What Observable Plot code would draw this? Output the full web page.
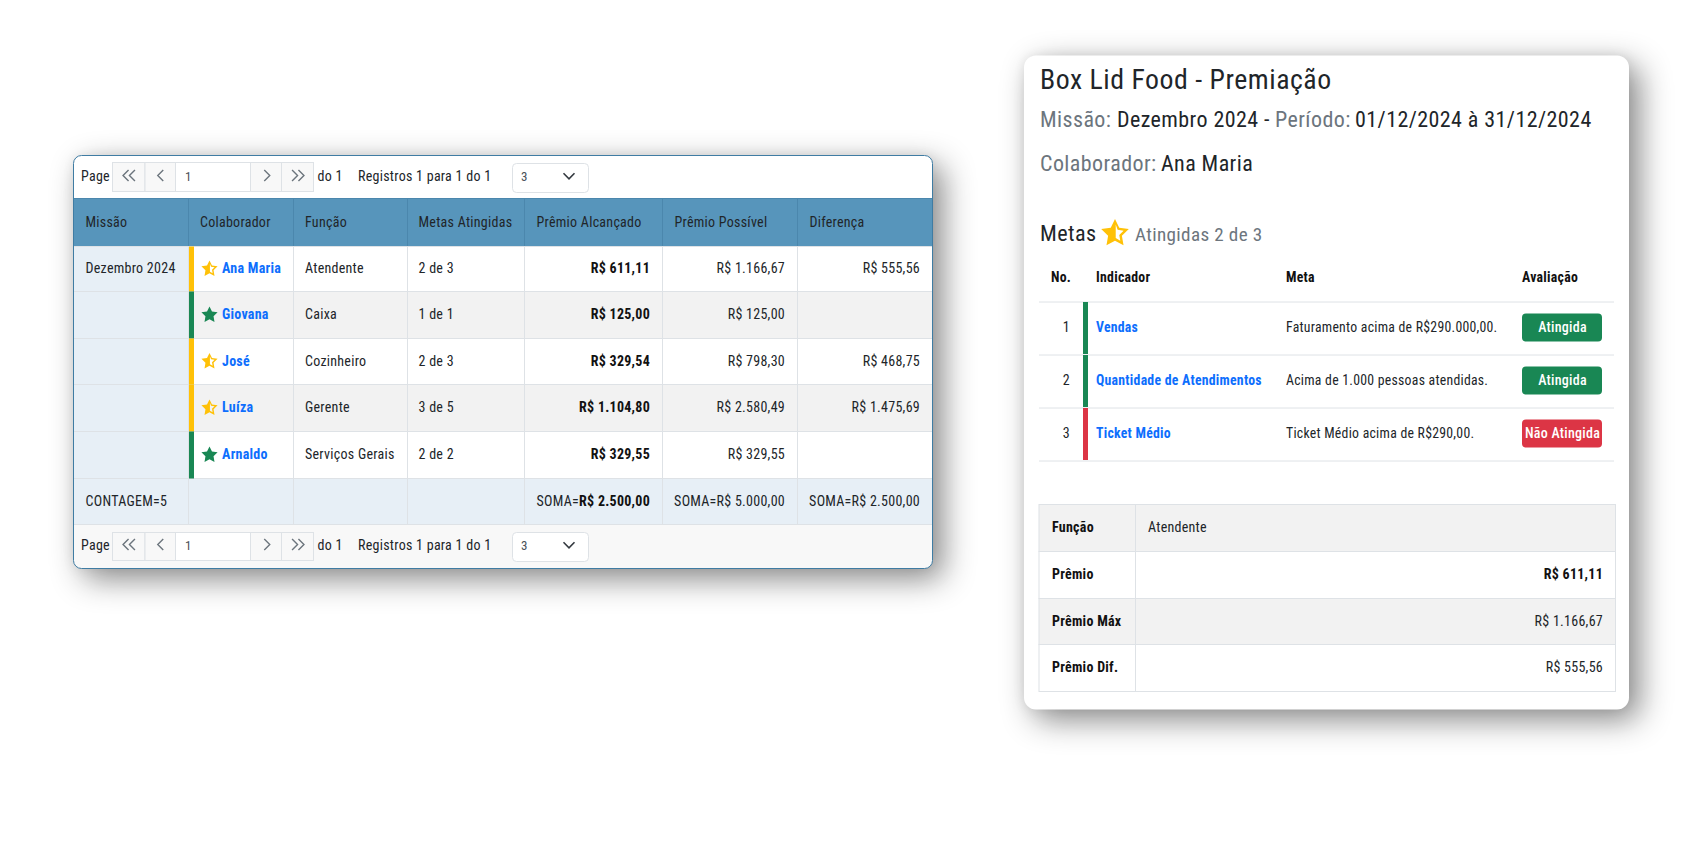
<!DOCTYPE html>
<html lang="pt-BR">
<head>
<meta charset="utf-8">
<title>Box Lid Food - Premiação</title>
<script src="https://cdn.jsdelivr.net/npm/d3@7"></script>
<script src="https://cdn.jsdelivr.net/npm/@observablehq/plot@0.6"></script>
<style>
  html, body { margin: 0; padding: 0; background: #fff; }
  svg { display: block; }
  svg text { letter-spacing: .019em; }
</style>
</head>
<body>
<div id="chart"></div>
<script>
// ---------- data ----------
const cabecalhos = ["Missão", "Colaborador", "Função", "Metas Atingidas", "Prêmio Alcançado", "Prêmio Possível", "Diferença"];
const missoes = ["Dezembro 2024"];
const colaboradores = ["Ana Maria", "Giovana", "José", "Luíza", "Arnaldo"];
const funcoes = ["Atendente", "Caixa", "Cozinheiro", "Gerente", "Serviços Gerais"];
const metasAtingidas = ["2 de 3", "1 de 1", "2 de 3", "3 de 5", "2 de 2"];
const premioAlcancado = ["R$ 611,11", "R$ 125,00", "R$ 329,54", "R$ 1.104,80", "R$ 329,55"];
const premioPossivel = ["R$ 1.166,67", "R$ 125,00", "R$ 798,30", "R$ 2.580,49", "R$ 329,55"];
const diferenca = ["R$ 555,56", "", "R$ 468,75", "R$ 1.475,69", ""];
const completo = [false, true, false, false, true];
const indicadorCab = ["No.", "Indicador", "Meta", "Avaliação"];
const indicadorNo = ["1", "2", "3"];
const indicadores = ["Vendas", "Quantidade de Atendimentos", "Ticket Médio"];
const metasTexto = ["Faturamento acima de R$290.000,00.", "Acima de 1.000 pessoas atendidas.", "Ticket Médio acima de R$290,00."];
const avaliacoes = ["Atingida", "Atingida", "Não Atingida"];
const resumoRotulos = ["Função", "Prêmio", "Prêmio Máx", "Prêmio Dif."];

// ---------- layout and style ----------
const FONT = "'Roboto Condensed', Roboto, sans-serif";
const C = {header:"#5795bb", headerLine:"#4b87ad", light:"#e7eff6", stripe:"#f2f2f2", line:"#dee2e6", ink:"#212529",
           gray:"#6c757d", amber:"#ffc107", green:"#198754", red:"#dc3545", link:"#0d6efd", btn:"#f8f8f8", edge:"#3f7ca3"};
const SHADOW = "drop-shadow(10px 10px 16px rgba(0,0,0,.45)) drop-shadow(0 0 6px rgba(0,0,0,.08))";
const colEdges = [73,188,293,407,524,662,797,932];
const rowEdges = [198,246,291,338,384,431,478,524];
const textLeft = [84.5,199,304,417.5,535.5,673.5,808.5];
const textRight = [0,0,0,0,649,784,919];
const center = i => (rowEdges[i] + rowEdges[i+1]) / 2;

// ---------- custom symbols ----------
function starPts(R, r) {
  const p = [];
  for (let i = 0; i < 10; i++) {
    const a = -Math.PI/2 + i*Math.PI/5, q = i%2 ? r : R;
    p.push([q*Math.cos(a), q*Math.sin(a)]);
  }
  return p;
}
const halfStar = {draw(ctx, size) {
  const R = Math.sqrt(size/Math.PI), out = starPts(R, R*0.5), inn = starPts(R*0.62, R*0.31);
  out.forEach((p,i) => i ? ctx.lineTo(p[0],p[1]) : ctx.moveTo(p[0],p[1])); ctx.closePath();
  // hole in the right half only, wound the other way
  const rightHalf = [inn[0], inn[1], inn[2], inn[3], inn[4], inn[5]].map(p=>[Math.max(p[0],R*0.05),p[1]]);
  rightHalf.reverse().forEach((p,i) => i ? ctx.lineTo(p[0],p[1]) : ctx.moveTo(p[0],p[1])); ctx.closePath();
}};
const fullStar = {draw(ctx, size) {
  const R = Math.sqrt(size/Math.PI);
  starPts(R, R*0.5).forEach((p,i) => i ? ctx.lineTo(p[0],p[1]) : ctx.moveTo(p[0],p[1])); ctx.closePath();
}};
const chev = (dirs, vertical) => ({draw(ctx, size) {
  const R = Math.sqrt(size/Math.PI);
  if (vertical) { ctx.moveTo(-R,-R/2); ctx.lineTo(0,R/2); ctx.lineTo(R,-R/2); return; }
  for (const [off,s] of dirs) { ctx.moveTo(off-s*R/2,-R); ctx.lineTo(off+s*R/2,0); ctx.lineTo(off-s*R/2,R); }
}});
const dblLeft = {draw(c,z){ chev([[-3.2,-1],[3.2,-1]]).draw(c,z);}};
const sglLeft = {draw(c,z){ chev([[0,-1]]).draw(c,z);}};
const sglRight = {draw(c,z){ chev([[0,1]]).draw(c,z);}};
const dblRight = {draw(c,z){ chev([[-3.2,1],[3.2,1]]).draw(c,z);}};
const down = chev([], true);

// ---------- tables built from the data ----------
const bodyCells = [];
colaboradores.forEach((_, r) => colEdges.slice(0,-1).forEach((x1, c) => bodyCells.push({
  x1, x2: colEdges[c+1], y1: rowEdges[r+1], y2: rowEdges[r+2],
  fill: c === 0 ? C.light : (r % 2 ? C.stripe : "#fff")
})));
const headCells = cabecalhos.map((_, c) => ({x1: colEdges[c], x2: colEdges[c+1], y1: rowEdges[0], y2: rowEdges[1]}));
const footCells = cabecalhos.map((_, c) => ({x1: colEdges[c], x2: colEdges[c+1], y1: rowEdges[6], y2: rowEdges[7]}));
const leftBars = colaboradores.map((_, r) => ({x1:188.5, x2:193.5, y1:rowEdges[r+1], y2:rowEdges[r+2], fill: completo[r] ? C.green : C.amber}));
const T = (rows, o) => Plot.text(rows, {x:"x", y:"y", text:"t", fontFamily:FONT, textAnchor:"start", lineAnchor:"middle", fontSize:14, fill:C.ink, dy:-0.5, ...o});

const leftTexts = [
  ...cabecalhos.map((t,c) => ({t, x:textLeft[c], y:center(0)})),
  {t:missoes[0], x:textLeft[0], y:center(1)},
  ...funcoes.map((t,r) => ({t, x:textLeft[2], y:center(r+1)})),
  ...metasAtingidas.map((t,r) => ({t, x:textLeft[3], y:center(r+1)})),
  {t:"CONTAGEM=5", x:textLeft[0], y:center(6)}
];
const leftRight = [
  ...premioPossivel.map((t,r) => ({t, x:textRight[5], y:center(r+1)})),
  ...diferenca.map((t,r) => ({t, x:textRight[6], y:center(r+1)})),
  {t:"SOMA=R$ 5.000,00", x:textRight[5], y:center(6)},
  {t:"SOMA=R$ 2.500,00", x:textRight[6], y:center(6)},
  {t:"SOMA=", x:578, y:center(6)}
];
const leftBold = [
  ...premioAlcancado.map((t,r) => ({t, x:textRight[4], y:center(r+1)})),
  {t:"R$ 2.500,00", x:textRight[4], y:center(6)}
];
const nameTexts = colaboradores.map((t,r) => ({t, x:221, y:center(r+1)}));
const starsLeft = colaboradores.map((_,r) => ({x:208.5, y:center(r+1)}));

// pager toolbars
const toolbarRows = [{top:162, bottom:191, sel:192, sel0:163, mid:176}, {top:532, bottom:560, sel:561, sel0:532, mid:545}];
const pagerEdges = [112,144.5,175,250,281,313];
const pagerIcons = [128,159.5,266,297];
const pagerRects = toolbarRows.flatMap(r => pagerEdges.slice(0,-1).map((x1,i) => ({x1, x2:pagerEdges[i+1], y1:r.top, y2:r.bottom, fill:i===2?"#fff":C.btn})));
const selectRects = toolbarRows.map(r => ({x1:512, x2:588, y1:r.sel0, y2:r.sel}));
const toolbarTexts = toolbarRows.flatMap(r => [
  {t:"Page", x:80, y:r.mid}, {t:"do 1", x:316.5, y:r.mid}, {t:"Registros 1 para 1 do 1", x:357, y:r.mid}
]);
const toolbarSmall = toolbarRows.flatMap(r => [{t:"1", x:184, y:r.mid},{t:"3", x:520, y:r.mid}]);

// right card
const indLines = [301,354,407,460];
const indCenter = i => (indLines[i]+indLines[i+1])/2;
const indHeadX = [1050,1095,1285,1521];
const resumoY = [504,551,598,644,691];
const resumoMid = i => (resumoY[i]+resumoY[i+1])/2;
const resumoCells = resumoRotulos.flatMap((_, r) => [[1038.5,1135],[1135,1615]].map(([x1,x2]) => ({x1,x2,y1:resumoY[r],y2:resumoY[r+1],fill:r%2?"#fff":C.stripe})));

const chart = Plot.plot({
  width:1700, height:850, margin:0,
  x:{type:"linear", domain:[0,1700], range:[0.5,1700.5], axis:null},
  y:{type:"linear", domain:[0,850], range:[0.5,850.5], axis:null},
  color:{type:"identity"},
  style:{background:"#fff"},
  marks:[
    // left card
    Plot.rect([{}], {x1:()=>73,x2:()=>932,y1:()=>155,y2:()=>568,rx:8,fill:C.btn,imageFilter:SHADOW}),
    Plot.rect([{}], {x1:()=>73,x2:()=>932,y1:()=>155,y2:()=>230,rx:8,fill:"#fff"}),
    Plot.rect(headCells, {x1:"x1",x2:"x2",y1:"y1",y2:"y2",fill:C.header,stroke:C.headerLine}),
    Plot.rect(bodyCells, {x1:"x1",x2:"x2",y1:"y1",y2:"y2",fill:"fill",stroke:C.line}),
    Plot.rect(footCells, {x1:"x1",x2:"x2",y1:"y1",y2:"y2",fill:C.light,stroke:C.line}),
    Plot.rect(leftBars, {x1:"x1",x2:"x2",y1:"y1",y2:"y2",fill:"fill"}),
    Plot.rect([{}], {x1:()=>73,x2:()=>932,y1:()=>155,y2:()=>568,rx:8,fill:"none",stroke:C.edge,strokeWidth:1}),
    // toolbars
    Plot.rect(pagerRects, {x1:"x1",x2:"x2",y1:"y1",y2:"y2",fill:"fill",stroke:C.line}),
    Plot.rect(selectRects, {x1:"x1",x2:"x2",y1:"y1",y2:"y2",rx:4,fill:"#fff",stroke:C.line}),
    ...[[dblLeft,0],[sglLeft,1],[sglRight,2],[dblRight,3]].map(([symbol,i]) =>
      Plot.dot(toolbarRows, {x:()=>pagerIcons[i], y:d=>d.mid-1.5, symbol, r:5.5, fill:"none", stroke:C.gray, strokeWidth:1.4})),
    Plot.dot(toolbarRows, {x:()=>568, y:d=>d.mid-1, symbol:down, r:5.5, fill:"none", stroke:"#343a40", strokeWidth:1.6}),
    T(toolbarTexts, {}),
    T(toolbarSmall, {fontSize:13, fill:"#495057"}),
    // left table text
    T(leftTexts, {}),
    T(leftRight, {textAnchor:"end"}),
    T(leftBold, {textAnchor:"end", fontWeight:700, fill:"#111"}),
    T(nameTexts, {fontWeight:700, fill:C.link}),
    Plot.dot(starsLeft.filter((_,r)=>!completo[r]), {x:"x",y:"y",symbol:halfStar,r:8.5,fill:C.amber,stroke:"none",dy:-0.5}),
    Plot.dot(starsLeft.filter((_,r)=>completo[r]), {x:"x",y:"y",symbol:fullStar,r:8.5,fill:C.green,stroke:"none",dy:-0.5}),
    // right card
    Plot.rect([{}], {x1:()=>1023.5,x2:()=>1628.5,y1:()=>55,y2:()=>709,rx:12,fill:"#fff",imageFilter:SHADOW}),
    T([{t:"Box Lid Food - Premiação", x:1039, y:80}], {fontSize:27.8}),
    T([{t:"Missão:", x:1039, y:119},{t:"Período:", x:1274, y:119}], {fontSize:22, fill:C.gray}),
    T([{t:"Dezembro 2024 -", x:1116, y:119},{t:"01/12/2024 à 31/12/2024", x:1354, y:119}], {fontSize:22}),
    T([{t:"Colaborador:", x:1039, y:163}], {fontSize:22, fill:C.gray}),
    T([{t:"Ana Maria", x:1160, y:163}], {fontSize:22}),
    T([{t:"Metas", x:1039, y:233}], {fontSize:22.2}),
    Plot.dot([{x:1114,y:232.5}], {x:"x",y:"y",symbol:halfStar,r:14.5,fill:C.amber,stroke:"none"}),
    T([{t:"Atingidas 2 de 3", x:1134, y:234}], {fontSize:19.1, fill:C.gray}),
    T(indicadorCab.map((t,i)=>({t,x:indHeadX[i],y:277.5})), {fontWeight:700, fill:"#111", fontSize:13.8}),
    Plot.ruleY(indLines, {x1:()=>1038.5, x2:()=>1613.5, y:d=>d, stroke:C.line}),
    Plot.rect(indicadores.map((_,i)=>({i})), {x1:()=>1082.5,x2:()=>1087.5,y1:d=>indLines[d.i]+0.5,y2:d=>indLines[d.i+1]-0.5,fill:d=>avaliacoes[d.i]==="Atingida"?C.green:C.red}),
    T(indicadorNo.map((t,i)=>({t,x:1069,y:indCenter(i)})), {textAnchor:"end"}),
    T(indicadores.map((t,i)=>({t,x:1095,y:indCenter(i)})), {fontWeight:700, fill:C.link, fontSize:13.75}),
    T(metasTexto.map((t,i)=>({t,x:1285,y:indCenter(i)})), {fontSize:13.75}),
    Plot.rect(avaliacoes.map((t,i)=>({t,i})), {x1:()=>1521.5,x2:()=>1601.5,y1:d=>indCenter(d.i)-14.5,y2:d=>indCenter(d.i)+13.5,rx:4,fill:d=>d.t==="Atingida"?C.green:C.red}),
    T(avaliacoes.map((t,i)=>({t,x:1561.5,y:indCenter(i)})), {textAnchor:"middle", fill:"#fff", fontWeight:500}),
    Plot.rect(resumoCells, {x1:"x1",x2:"x2",y1:"y1",y2:"y2",fill:"fill",stroke:C.line}),
    T(resumoRotulos.map((t,i)=>({t,x:1051,y:resumoMid(i)})), {fontWeight:700, fill:"#111"}),
    T([{t:funcoes[0],x:1147,y:resumoMid(0)}], {}),
    T([{t:premioAlcancado[0],x:1602,y:resumoMid(1)}], {textAnchor:"end",fontWeight:700,fill:"#111"}),
    T([{t:premioPossivel[0],x:1602,y:resumoMid(2)},{t:diferenca[0],x:1602,y:resumoMid(3)}], {textAnchor:"end"})
  ]
});
document.getElementById("chart").append(chart);
</script>
</body>
</html>
